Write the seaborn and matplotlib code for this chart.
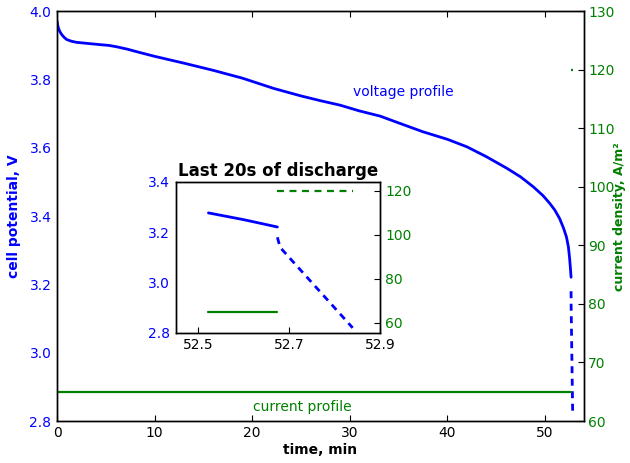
import matplotlib
matplotlib.use("Agg")
import matplotlib.pyplot as plt
import seaborn as sns
import pandas as pd

# Discharge voltage (solid part, up to the cut-off point)
time_v = [0.0, 0.05, 0.15, 0.3, 0.5, 0.75, 1.0, 1.5, 2.0, 2.7, 3.4, 4.5, 5.3,
          6.1, 7.2, 8.5, 10.0, 13.0, 16.0, 19.0, 22.2, 25.0, 27.0, 29.0, 31.0,
          33.1, 35.0, 37.5, 40.0, 42.0, 44.0, 46.1, 47.5, 48.8, 49.8, 50.5,
          51.0, 51.5, 51.9, 52.2, 52.4, 52.522, 52.6, 52.674]
volt = [3.972, 3.962, 3.950, 3.940, 3.931, 3.923, 3.917, 3.912, 3.909, 3.907,
        3.905, 3.902, 3.900, 3.896, 3.889, 3.879, 3.868, 3.848, 3.827, 3.804,
        3.774, 3.752, 3.738, 3.725, 3.708, 3.693, 3.673, 3.647, 3.625, 3.603,
        3.574, 3.540, 3.515, 3.486, 3.460, 3.437, 3.418, 3.393, 3.365, 3.339,
        3.310, 3.277, 3.250, 3.221]

# Voltage after the current step (dashed)
time_v_end = [52.674, 52.68, 52.84]
volt_end = [3.18, 3.14, 2.82]

# Applied current density
time_i = [0.0, 52.522, 52.674]
curr = [65, 65, 65]
time_i_end = [52.674, 52.84]
curr_end = [120, 120]

inset_start = 52.52

BLUE = "#0000ff"
GREEN = "#008000"

sns.set_style("white")
plt.rcParams["font.family"] = ["DejaVu Sans"]
plt.rcParams.update({
    "xtick.direction": "in", "ytick.direction": "in",
    "xtick.major.size": 4, "ytick.major.size": 4,
    "axes.edgecolor": "black", "axes.linewidth": 1.0,
    "text.color": "black", "axes.labelcolor": "black",
    "xtick.color": "black", "ytick.color": "black",
    "font.size": 10, "xtick.labelsize": 10, "ytick.labelsize": 10,
    "lines.scale_dashes": False, "lines.dashed_pattern": [5, 4],
})

volt_df = pd.DataFrame({"t": time_v, "v": volt})
volt_end_df = pd.DataFrame({"t": time_v_end, "v": volt_end})
curr_df = pd.DataFrame({"t": time_i, "i": curr})
curr_end_df = pd.DataFrame({"t": time_i_end, "i": curr_end})

fig = plt.figure(figsize=(6.3, 4.63), dpi=100)
ax = fig.add_axes([0.0905, 0.0907, 0.8365, 0.885])
ax2 = ax.twinx()


def draw(a_left, a_right, vd, ved, cd, ced):
    sns.lineplot(data=vd, x="t", y="v", ax=a_left, color=BLUE, lw=2)
    sns.lineplot(data=ved, x="t", y="v", ax=a_left, color=BLUE, lw=2,
                 linestyle="--")
    sns.lineplot(data=cd, x="t", y="i", ax=a_right, color=GREEN, lw=1.6)
    sns.lineplot(data=ced, x="t", y="i", ax=a_right, color=GREEN, lw=1.6,
                 linestyle="--")


def style(a_left, a_right):
    for a in (a_left, a_right):
        for s in a.spines.values():
            s.set_visible(True)
            s.set_color("black")
            s.set_linewidth(1.0)
        a.set_xlabel("")
        a.set_ylabel("")
    a_left.tick_params(axis="x", top=True, bottom=True, direction="in",
                       colors="black")
    a_left.tick_params(axis="y", labelcolor=BLUE, length=0, pad=4)
    a_right.tick_params(axis="y", labelcolor=GREEN, color="black",
                        direction="in", length=4, pad=4)


draw(ax, ax2, volt_df, volt_end_df, curr_df, curr_end_df)
ax.set_xlim(0, 54)
ax.set_ylim(2.8, 4.0)
ax2.set_ylim(60, 130)
ax.set_xticks([0, 10, 20, 30, 40, 50])
ax.set_yticks([2.8, 3.0, 3.2, 3.4, 3.6, 3.8, 4.0])
ax2.set_yticks([60, 70, 80, 90, 100, 110, 120, 130])
style(ax, ax2)
ax2.tick_params(axis="y", pad=3)
ax.set_xlabel("time, min", fontweight="bold", labelpad=2, color="black")
ax.set_ylabel("cell potential, V", color=BLUE, fontweight="bold", labelpad=6)
ax2.set_ylabel("current density, A/m²", color=GREEN, fontweight="bold",
               fontsize=9)
ax2.yaxis.set_label_coords(1.0555, 0.5)
ax.text(35.5, 3.763, "voltage profile", color=BLUE, ha="center",
        va="center", fontsize=10)
ax.text(25.1, 2.84, "current profile", color=GREEN, ha="center",
        va="center", fontsize=10)

# Zoomed view of the final seconds
ins = fig.add_axes([0.279, 0.281, 0.324, 0.326])
ins2 = ins.twinx()
draw(ins, ins2,
     volt_df[volt_df.t >= inset_start], volt_end_df,
     curr_df[curr_df.t >= inset_start], curr_end_df)
ins.set_xlim(52.45, 52.9)
ins.set_ylim(2.8, 3.4)
ins2.set_ylim(55.5, 124)
ins.set_xticks([52.5, 52.7, 52.9])
ins.set_xticklabels(["52.5", "52.7", "52.9"])
ins.set_yticks([2.8, 3.0, 3.2, 3.4])
ins2.set_yticks([60, 80, 100, 120])
style(ins, ins2)
ins.tick_params(axis="x", top=False)
ins.set_title("Last 20s of discharge", fontweight="bold", fontsize=12,
              pad=4, color="black")

fig.savefig("out.png", dpi=100)
